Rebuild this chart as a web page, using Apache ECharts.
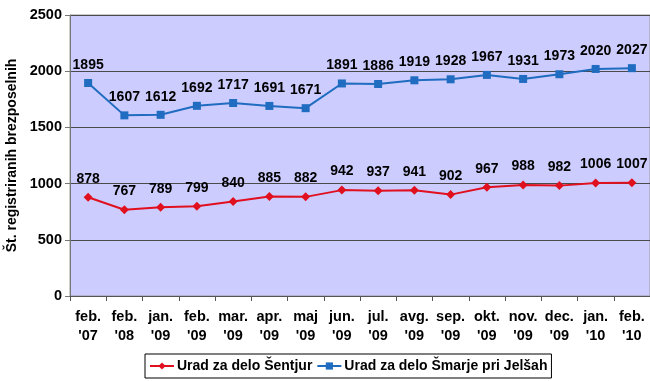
<!DOCTYPE html>
<html>
<head>
<meta charset="utf-8">
<script src="https://cdn.jsdelivr.net/npm/echarts@6/dist/echarts.min.js"></script>
<style>html,body{margin:0;padding:0;background:#fff;}#c{width:650px;height:381px;}</style>
</head>
<body>
<div id="c"></div>
<script>
const categories = ["feb.\n'07","feb.\n'08","jan.\n'09","feb.\n'09","mar.\n'09","apr.\n'09","maj\n'09","jun.\n'09","jul.\n'09","avg.\n'09","sep.\n'09","okt.\n'09","nov.\n'09","dec.\n'09","jan.\n'10","feb.\n'10"];
const sentjur = [878,767,789,799,840,885,882,942,937,941,902,967,988,982,1006,1007];
const smarje = [1895,1607,1612,1692,1717,1691,1671,1891,1886,1919,1928,1967,1931,1973,2020,2027];
const seriesNames = ["Urad za delo Šentjur","Urad za delo Šmarje pri Jelšah"];
const yMin = 0, yMax = 2500, yInterval = 500;

const chart = echarts.init(document.getElementById('c'));
const font = 'Liberation Sans, Arial, sans-serif';
chart.setOption({
  animation:false,
  textStyle:{fontFamily:font},
  grid:{left:70,right:0,top:15,bottom:85,containLabel:false,outerBoundsMode:'none',show:true,backgroundColor:'#CCCCFF',borderColor:'#9a9a9a',borderWidth:1},
  xAxis:{type:'category',data:categories,boundaryGap:true,
    axisLine:{lineStyle:{color:'#555',width:1}},
    axisTick:{show:true,length:5,lineStyle:{color:'#555'}},
    axisLabel:{color:'#000',fontWeight:'bold',fontSize:14.5,fontFamily:font,lineHeight:19,margin:11,interval:0}},
  yAxis:{type:'value',min:yMin,max:yMax,interval:yInterval,
    name:'Št. registriranih brezposelnih',nameLocation:'middle',nameGap:48,
    nameTextStyle:{color:'#000',fontWeight:'bold',fontSize:14,fontFamily:font},
    axisLine:{show:true,lineStyle:{color:'#777'}},
    axisTick:{show:true,length:5,lineStyle:{color:'#777'}},
    splitLine:{lineStyle:{color:'#4a4a4a',width:1}},
    axisLabel:{color:'#000',fontWeight:'bold',fontSize:14.5,fontFamily:font,margin:8,formatter:v=>String(v)}},
  legend:{bottom:3,left:145,data:seriesNames,itemWidth:24,itemHeight:9,itemGap:4,
    borderColor:'#000',borderWidth:1,padding:[5,4,5,4],backgroundColor:'#fff',
    textStyle:{color:'#000',fontWeight:'bold',fontSize:14,fontFamily:font,padding:[0,0,0,-2]}},
  series:[
    {name:seriesNames[0],type:'line',data:sentjur,symbol:'diamond',symbolSize:9,
      itemStyle:{color:'#E0101E'},lineStyle:{color:'#E0101E',width:2},
      label:{show:true,position:'top',distance:7,color:'#000',fontWeight:'bold',fontSize:14,fontFamily:font,formatter:p=>String(p.value)}},
    {name:seriesNames[1],type:'line',data:smarje,symbol:'rect',symbolSize:8,
      itemStyle:{color:'#1F6CC0'},lineStyle:{color:'#1F6CC0',width:2},
      label:{show:true,position:'top',distance:7,color:'#000',fontWeight:'bold',fontSize:14,fontFamily:font,formatter:p=>String(p.value)}}
  ]
});
</script>
</body>
</html>
